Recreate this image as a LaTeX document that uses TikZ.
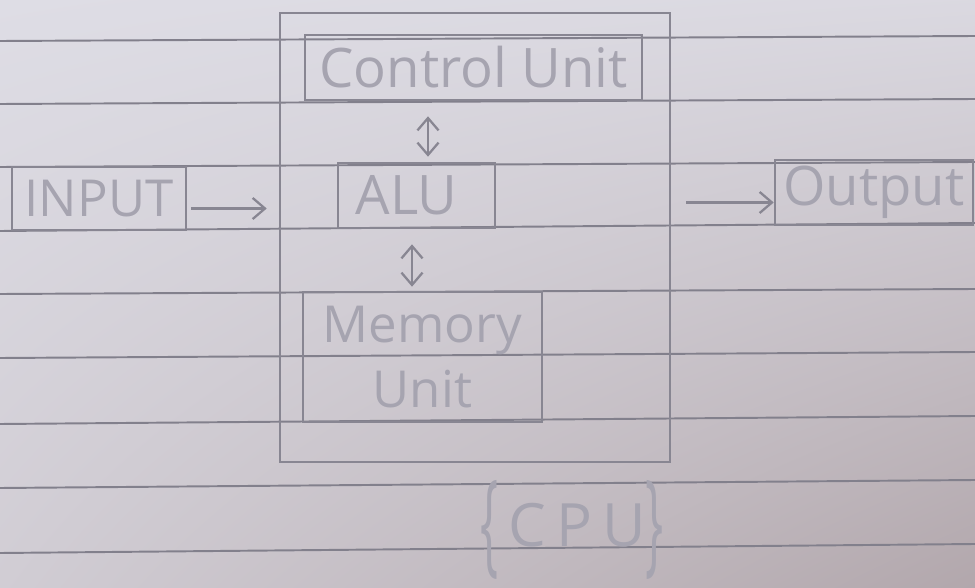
\documentclass[tikz,border=0pt]{standalone}
\usepackage{fontspec}
\setmainfont{Open Sans}
\usepackage{graphicx}
\usepackage[rgb]{xcolor}
\usepackage{tikz}
\usetikzlibrary{arrows.meta,calc,shadings}
\definecolor{paperlight}{RGB}{222,221,229}
\definecolor{paperdark}{RGB}{178,167,172}
\definecolor{ruling}{RGB}{130,128,140}
\definecolor{pencil}{RGB}{136,134,146}
\definecolor{lead}{RGB}{166,164,176}
\tikzset{>={Straight Barb[length=7pt,width=12pt]}}
\tikzstyle{rule}=[ruling,line width=1.1pt]
\tikzstyle{unit}=[draw=pencil,line width=1.5pt,text=lead,inner sep=0pt,
  font=\fontsize{31}{37}\selectfont,align=center]
\tikzstyle{link}=[pencil,line width=1.3pt]
\newcommand{\tallbrace}[1]{\raisebox{-0.25em}{\scalebox{0.8}[1.9]{#1}}}

\begin{document}
\begin{tikzpicture}[x=0.02cm,y=-0.02cm]
  \useasboundingbox (0,0) rectangle (975,588);

  % paper
  \shade[upper left=paperlight,upper right=paperlight!92!paperdark,
         lower left=paperlight!70!paperdark,lower right=paperdark]
    (0,0) rectangle (975,588);

  % ruled lines (left end / right end)
  \foreach \l/\r in {41/36,104/99,167/162,231/223,294/289,358/352,424/416,488/480,553/544}{
    \draw[rule] (0,\l) -- (975,\r);
  }

  % outer cpu box
  \node[unit,minimum width=7.8cm,minimum height=8.98cm] (cpu) at (475,237.5) {};

  % units
  \node[unit,minimum width=6.74cm,minimum height=1.3cm] (cu) at (473.5,67.5) {Control Unit};
  \node[unit,minimum width=3.14cm,minimum height=1.3cm] (alu) at (416.5,195.5) {ALU\hspace{0.4cm}};
  \node[unit,minimum width=4.78cm,minimum height=2.6cm,
        font=\fontsize{29}{37}\selectfont] (mem) at (422.5,357) {Memory\\Unit};
  \node[unit,minimum width=3.48cm,minimum height=1.26cm,
        font=\fontsize{29}{34}\selectfont] (inp) at (99,198.5) {INPUT};
  \node[unit,minimum width=3.96cm,minimum height=1.3cm] (outp) at (874,192.5) {Output};

  % label
  \node[text=lead,font=\fontsize{34}{40}\selectfont] (cpulbl) at (572,530)
    {\tallbrace{\{}\,C\,P\,U\tallbrace{\}}};

  % in / out
  \draw[link,->,shorten <=0.08cm,shorten >=0.24cm]
    ([yshift=-0.2cm]inp.east) -- ([yshift=-0.2cm]inp.east -| cpu.west);
  \draw[link,->,shorten <=0.3cm]
    ([yshift=-0.2cm]outp.west -| cpu.east) -- ([yshift=-0.2cm]outp.west);

  % inner links
  \coordinate (cuA) at ([xshift=0.23cm]alu.north);
  \coordinate (memA) at ([xshift=-0.09cm]alu.south);
  \draw[link,<->,shorten <=0.1cm,shorten >=0.3cm] (cuA) -- (cuA |- cu.south);
  \draw[link,<->,shorten <=0.3cm,shorten >=0.08cm] (memA) -- (memA |- mem.north);

\end{tikzpicture}
\end{document}
